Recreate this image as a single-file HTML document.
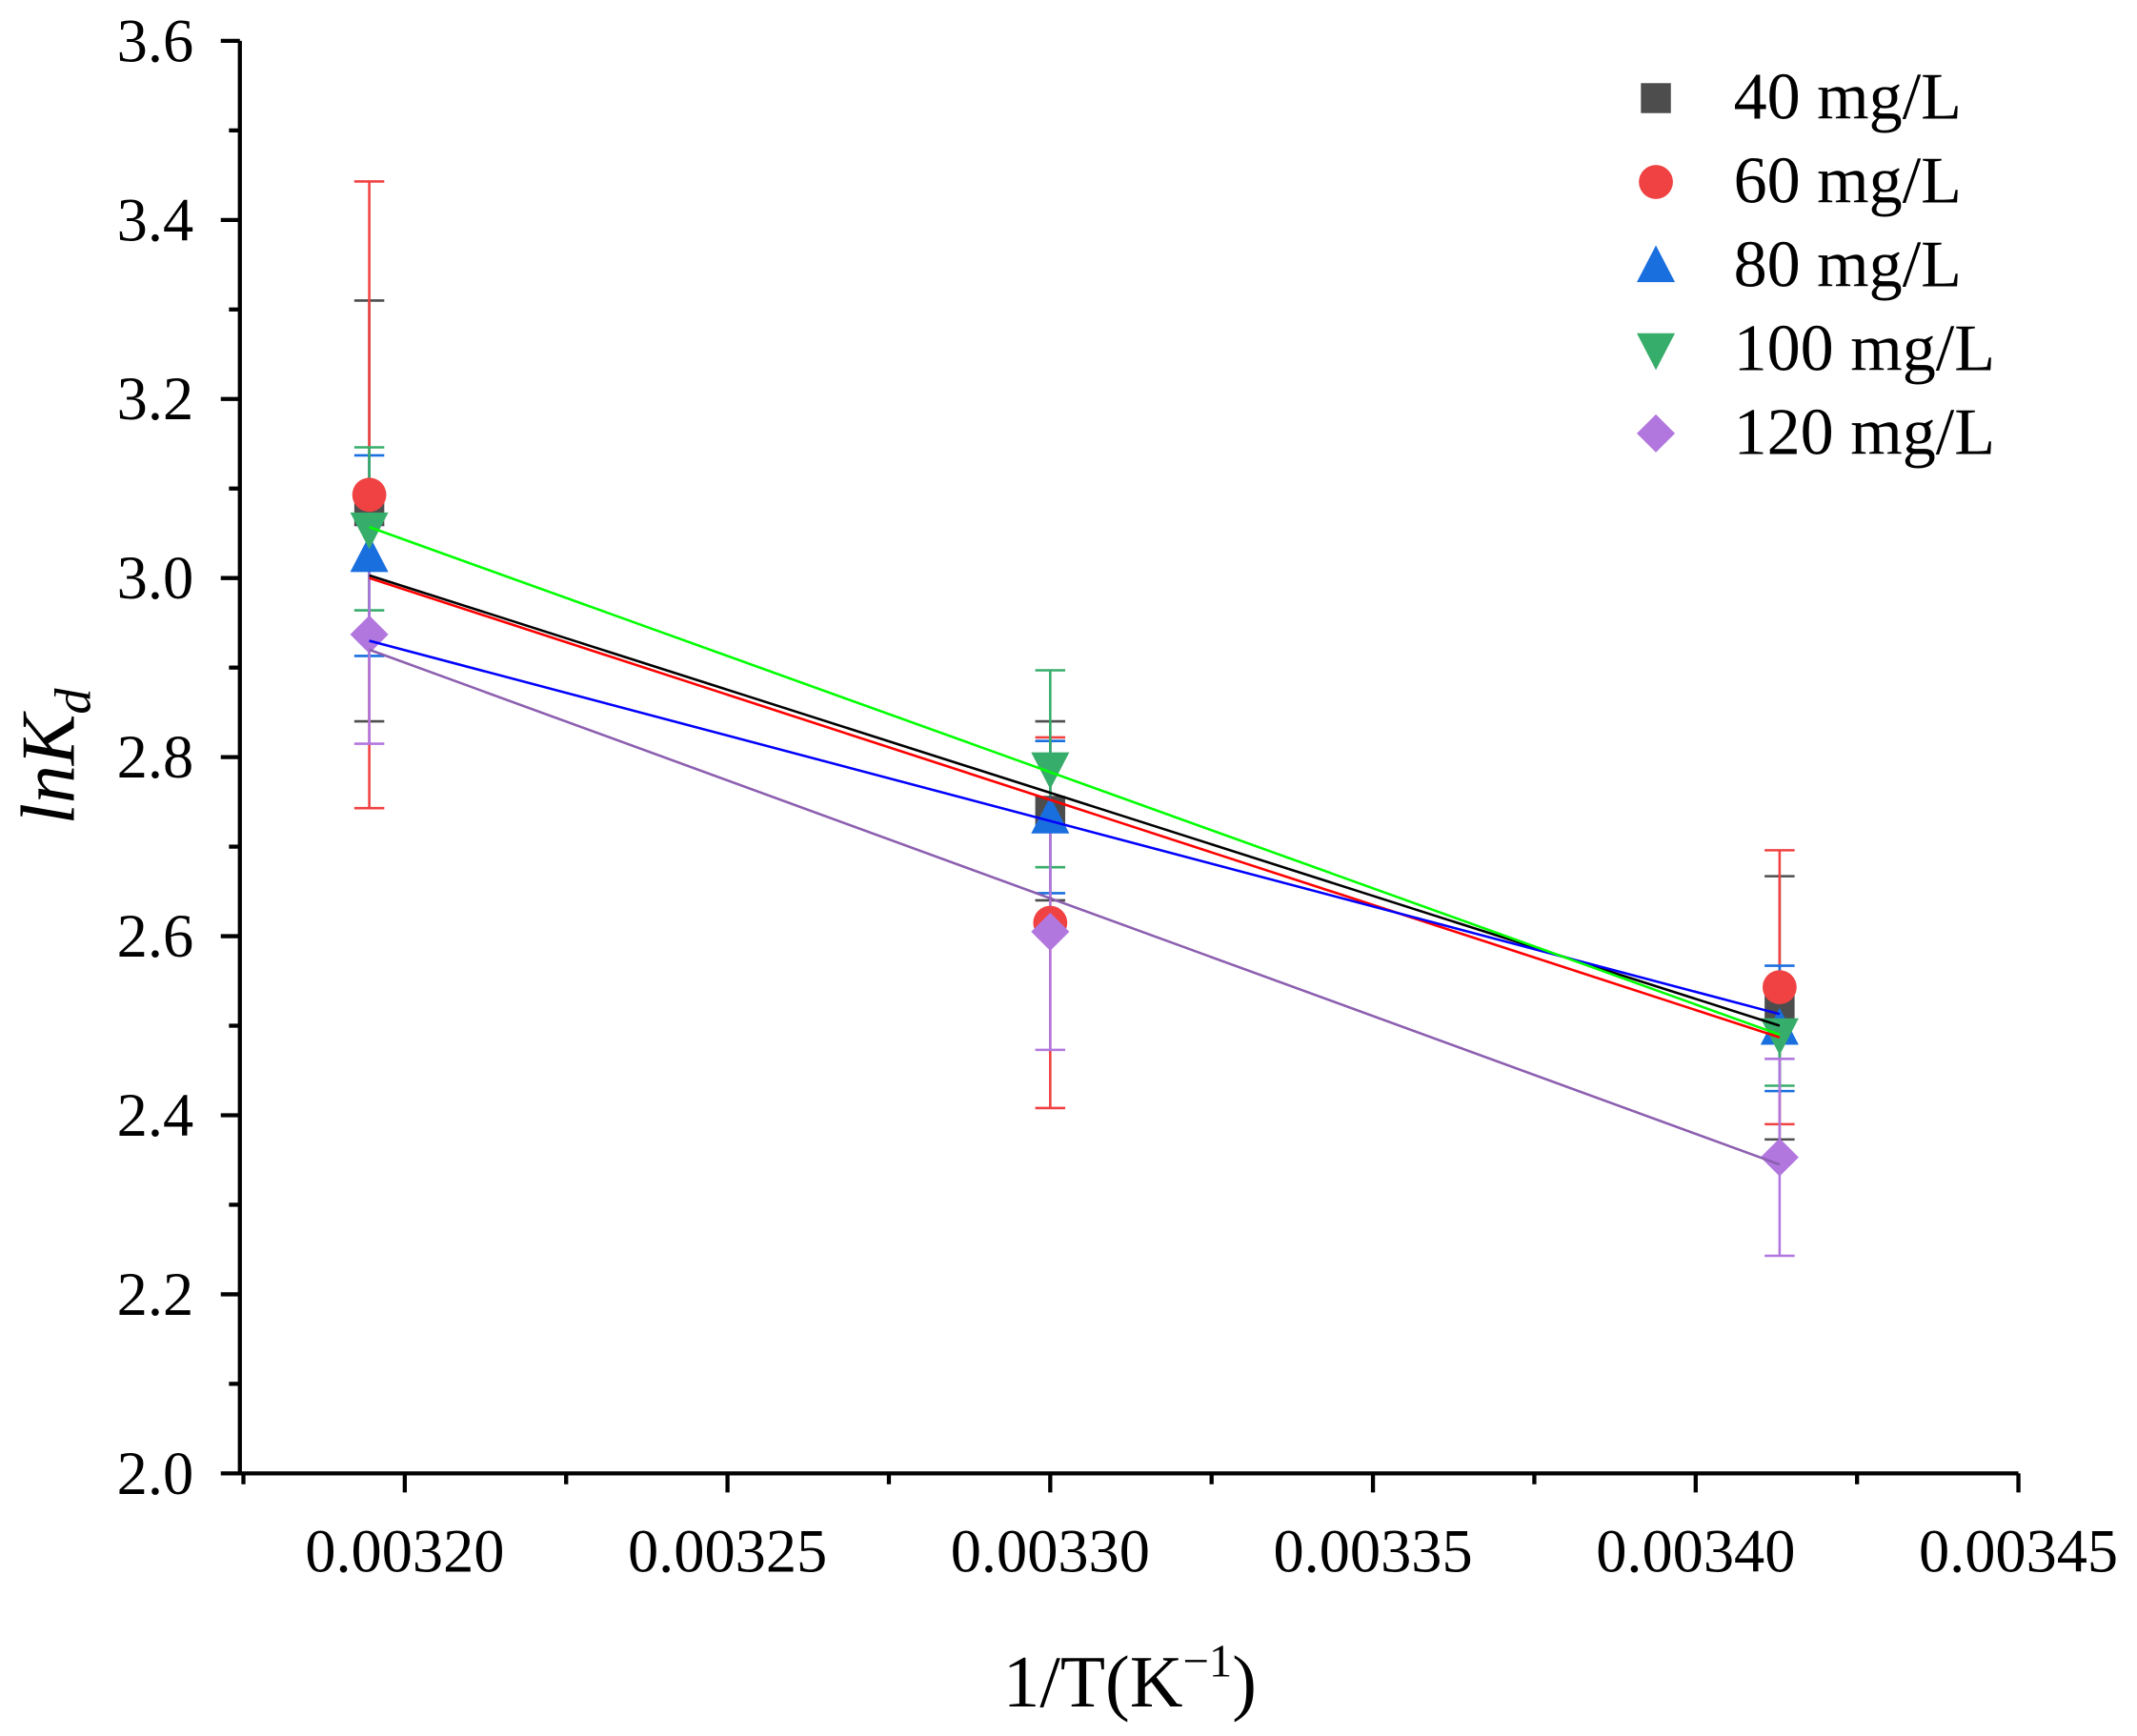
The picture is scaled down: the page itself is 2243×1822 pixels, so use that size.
<!DOCTYPE html>
<html><head><meta charset="utf-8"><style>
html,body{margin:0;padding:0;background:#fff;}
svg{display:block;font-family:"Liberation Serif",serif;}
</style></head><body>
<svg id="chart" width="2243" height="1822" viewBox="0 0 1568 1273.7" xmlns="http://www.w3.org/2000/svg">
<rect x="0" y="0" width="1568" height="1274" fill="#fff"/>
<g id="errs"></g>
<g id="marks"></g>
<g id="fits"></g>
<g id="axes"></g>
<g id="legend"></g>
<text x="829" y="1252" font-size="54" text-anchor="middle">1/T(K<tspan font-size="34" dy="-22">−1</tspan><tspan dy="22">)</tspan></text>
<text transform="translate(54,555) rotate(-90)" font-size="56" text-anchor="middle" font-style="italic">lnK<tspan font-size="38" dy="12">d</tspan></text>
</svg>
<script>
const xVals = [0.0031945, 0.0033000, 0.0034130];
const seriesNames = ["40 mg/L","60 mg/L","80 mg/L","100 mg/L","120 mg/L"];
const y40 = [3.075, 2.740, 2.520];
const y60 = [3.093, 2.615, 2.543];
const y80 = [3.025, 2.733, 2.497];
const y100 = [3.055, 2.787, 2.490];
const y120 = [2.937, 2.605, 2.353];
const e40 = [0.235, 0.100, 0.147];
const e60 = [0.350, 0.207, 0.153];
const e80 = [0.112, 0.085, 0.070];
const e100 = [0.091, 0.110, 0.057];
const e120 = [0.122, 0.132, 0.110];
const fitLeft = [3.003, 3.000, 2.930, 3.057, 2.920];
const fitRight = [2.500, 2.487, 2.513, 2.490, 2.345];
const xTicks = [0.00320, 0.00325, 0.00330, 0.00335, 0.00340, 0.00345];
const xTickLabels = ["0.00320","0.00325","0.00330","0.00335","0.00340","0.00345"];
const yTicks = [2.0,2.2,2.4,2.6,2.8,3.0,3.2,3.4,3.6];
const yTickLabels = ["2.0","2.2","2.4","2.6","2.8","3.0","3.2","3.4","3.6"];

const X0=176, X1=1481, Y0=1081, Y1=30;
const xMin=0.00320-121/236.8*0.00005, xMax=0.00345, yMin=2.0, yMax=3.6;
function sx(v){return X0+(v-xMin)/(xMax-xMin)*(X1-X0);}
function sy(v){return Y0-(v-yMin)/(yMax-yMin)*(Y0-Y1);}
const NS="http://www.w3.org/2000/svg";
function mk(tag,attrs,parent){const e=document.createElementNS(NS,tag);for(const k in attrs)e.setAttribute(k,attrs[k]);parent.appendChild(e);return e;}

const ys=[y40,y60,y80,y100,y120], es=[e40,e60,e80,e100,e120];
const mColors=["#4d4d4d","#f04242","#1a6fdf","#37ad6b","#b177de"];
const lColors=["#000000","#ff0000","#0000ff","#00ff00","#8c5fb0"];
const shapes=["square","circle","tri","tridown","diamond"];

function marker(shape,cx,cy,color,parent){
  let e;
  if(shape==="square") e=mk("rect",{x:cx-11,y:cy-11,width:22,height:22,fill:color},parent);
  else if(shape==="circle") e=mk("circle",{cx:cx,cy:cy,r:12.5,fill:color},parent);
  else if(shape==="tri") e=mk("polygon",{points:`${cx},${cy-15} ${cx-14},${cy+12} ${cx+14},${cy+12}`,fill:color},parent);
  else if(shape==="tridown") e=mk("polygon",{points:`${cx},${cy+15} ${cx-14},${cy-12} ${cx+14},${cy-12}`,fill:color},parent);
  else e=mk("polygon",{points:`${cx},${cy-14} ${cx+14},${cy} ${cx},${cy+14} ${cx-14},${cy}`,fill:color},parent);
  return e;
}

const errs=document.getElementById("errs"), marks=document.getElementById("marks"), fits=document.getElementById("fits");
for(let s=0;s<5;s++){
  for(let i=0;i<xVals.length;i++){
    const cx=sx(xVals[i]), hi=sy(ys[s][i]+es[s][i]), lo=sy(ys[s][i]-es[s][i]);
    const g=mk("g",{stroke:mColors[s],"stroke-width":1.8},errs);
    
    
    mk("line",{x1:cx,y1:hi,x2:cx,y2:lo},g);
    mk("line",{x1:cx-11,y1:hi,x2:cx+11,y2:hi},g);
    mk("line",{x1:cx-11,y1:lo,x2:cx+11,y2:lo},g);
  }
}
for(let s=0;s<5;s++){
  for(let i=0;i<xVals.length;i++){
    const m=marker(shapes[s],sx(xVals[i]),sy(ys[s][i]),mColors[s],marks);
    
    
  }
}
for(let s=0;s<5;s++){
  const l=mk("line",{x1:sx(xVals[0]),y1:sy(fitLeft[s]),x2:sx(xVals[2]),y2:sy(fitRight[s]),stroke:lColors[s],"stroke-width":1.8},fits);
  
  
}
const axes=document.getElementById("axes");
const frame=mk("path",{d:`M${X0},${Y1} L${X0},${Y0} L${X1},${Y0}`,fill:"none",stroke:"#000","stroke-width":3},axes);


for(let i=0;i<yTicks.length;i++){
  const y=sy(yTicks[i]);
  const t=mk("line",{x1:X0-14,y1:y,x2:X0,y2:y,stroke:"#000","stroke-width":3},axes);
  
  
  const lb=mk("text",{x:X0-34,y:y+15,"font-size":45,"text-anchor":"end"},axes);
  lb.textContent=yTickLabels[i];
  
  
  if(i<yTicks.length-1){
    const ym=sy(yTicks[i]+0.1);
    const mt=mk("line",{x1:X0-8,y1:ym,x2:X0,y2:ym,stroke:"#000","stroke-width":3},axes);
    
    
  }
}
for(let i=0;i<xTicks.length;i++){
  const x=sx(xTicks[i]);
  const t=mk("line",{x1:x,y1:Y0,x2:x,y2:Y0+14,stroke:"#000","stroke-width":3},axes);
  
  
  const lb=mk("text",{x:x,y:Y0+72,"font-size":45,"text-anchor":"middle"},axes);
  lb.textContent=xTickLabels[i];
  
  
  const xm=sx(xTicks[i]-0.000025);
  if(xm>=X0-1){
    const mt=mk("line",{x1:xm,y1:Y0,x2:xm,y2:Y0+8,stroke:"#000","stroke-width":3},axes);
    
    
  }
}
const leg=document.getElementById("legend");
for(let s=0;s<5;s++){
  const y=72+s*61.5;
  const m=marker(shapes[s],1215,y,mColors[s],leg);
  
  
  const t=mk("text",{x:1272,y:y+15,"font-size":49},leg);
  t.textContent=seriesNames[s];
  
  
}
</script>
</body></html>
